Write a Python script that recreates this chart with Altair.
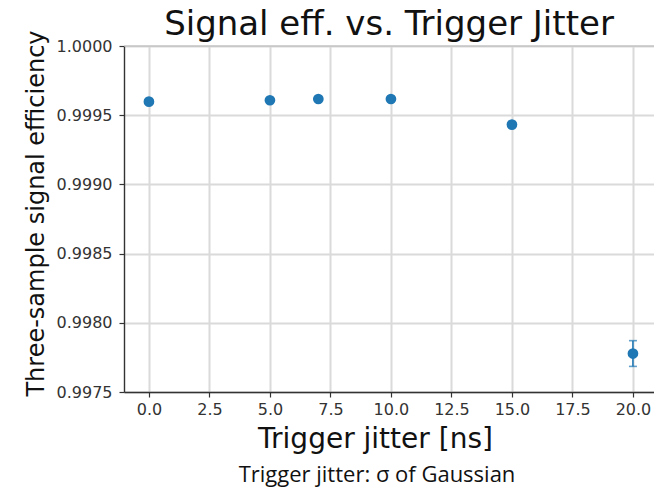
import altair as alt
import pandas as pd

# Trigger jitter (ns) and the measured three-sample signal efficiency
jitter_ns = [0.0, 5.0, 7.0, 10.0, 15.0, 20.0]
efficiency = [0.999598, 0.999608, 0.999617, 0.999617, 0.999432, 0.997778]
eff_error = [0.000012, 0.000010, 0.000010, 0.000010, 0.000020, 0.000093]

x_ticks = [0.0, 2.5, 5.0, 7.5, 10.0, 12.5, 15.0, 17.5, 20.0]
y_ticks = [0.9975, 0.9980, 0.9985, 0.9990, 0.9995, 1.0000]

caption_text = ["Trigger jitter: σ of Gaussian"]

df = pd.DataFrame({"jitter": jitter_ns, "eff": efficiency, "err": eff_error})
df["lo"] = df["eff"] - df["err"]
df["hi"] = df["eff"] + df["err"]

BLUE = "#1f77b4"
FONT = "DejaVu Sans"

x_scale = alt.Scale(domain=[-1.03, 20.87], nice=False, zero=False)
y_scale = alt.Scale(domain=[0.9975, 1.0], nice=False, zero=False)

x_axis = alt.Axis(
    values=x_ticks, format=".1f", title="Trigger jitter [ns]", grid=True,
    titleFontSize=28, titleFont=FONT, titleFontWeight="normal", titleColor="#111",
    titleX=251, titleY=55, titleAnchor="start", titleAlign="center",
    titleBaseline="alphabetic", labelPadding=4,
)
y_axis = alt.Axis(
    values=y_ticks, format=".4f", title="Three-sample signal efficiency", grid=True,
    titleFontSize=24, titleFont=FONT, titleFontWeight="normal", titleColor="#111",
    titleX=-88, titleY=167, titleAngle=-90, titleAlign="center",
    titleBaseline="middle", labelPadding=7,
)

base = alt.Chart(df)

bars = base.mark_rule(color=BLUE, strokeWidth=1.6).encode(
    x=alt.X("jitter:Q", scale=x_scale, axis=x_axis),
    y=alt.Y("lo:Q", scale=y_scale, axis=y_axis),
    y2="hi:Q",
)
top_edge = alt.Chart(pd.DataFrame({"top": [1.0]})).mark_rule(
    color="#b5b5b5", strokeWidth=1.2
).encode(y="top:Q")
cap_lo = base.mark_tick(color=BLUE, thickness=1.6, size=8, orient="horizontal").encode(
    x="jitter:Q", y="lo:Q"
)
cap_hi = base.mark_tick(color=BLUE, thickness=1.6, size=8, orient="horizontal").encode(
    x="jitter:Q", y="hi:Q"
)
points = base.mark_circle(color=BLUE, size=115, opacity=1).encode(
    x="jitter:Q", y="eff:Q"
)

# one-row table so the caption is drawn once
caption = alt.Chart(pd.DataFrame({"label": caption_text})).mark_text(
    font="Open Sans", fontSize=22, fontWeight="normal", color="#111",
    align="center", baseline="alphabetic",
).encode(text="label:N", x=alt.value(253), y=alt.value(436))

chart = (
    alt.layer(bars, top_edge, cap_lo, cap_hi, points, caption)
    .properties(
        width=530, height=346,
        autosize=alt.AutoSizeParams(type="none"),
        padding={"left": 124, "top": 46, "right": 0, "bottom": 100},
        title=alt.TitleParams(
            "Signal eff. vs. Trigger Jitter", font=FONT, fontSize=34,
            fontWeight="normal", color="#111", anchor="middle", offset=6, dy=18,
        ),
    )
    .configure_view(stroke=None)
    .configure_axis(
        labelFont=FONT, labelFontSize=16, labelColor="#333",
        tickColor="#333", tickSize=5, tickWidth=1.2,
        domainColor="#333", domainWidth=1.4,
        gridColor="#dadada", gridWidth=2,
    )
)

chart.save("out.html", embed_options={"renderer": "svg", "actions": False})
